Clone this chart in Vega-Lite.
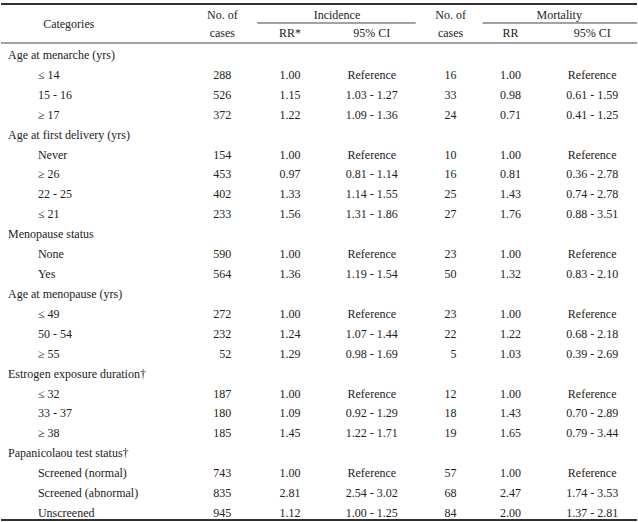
{
  "$schema": "https://vega.github.io/schema/vega-lite/v6.json",
  "width": 638,
  "height": 522,
  "autosize": {"type": "fit", "contains": "padding"},
  "padding": 0,
  "background": "white",
  "config": {
    "view": {"stroke": null},
    "text": {"font": "Liberation Serif", "fontSize": 12, "color": "#222"},
    "axis": {"disable": true}
  },
  "datasets": {
    "rows": [
      {"r": 1, "kind": "group", "label": "Age at menarche (yrs)"},
      {"r": 2, "kind": "item", "label": "≤ 14", "n1": 288, "rr1": 1.00, "ci1": "Reference", "n2": 16, "rr2": 1.00, "ci2": "Reference"},
      {"r": 3, "kind": "item", "label": "15 - 16", "n1": 526, "rr1": 1.15, "ci1": "1.03 - 1.27", "n2": 33, "rr2": 0.98, "ci2": "0.61 - 1.59"},
      {"r": 4, "kind": "item", "label": "≥ 17", "n1": 372, "rr1": 1.22, "ci1": "1.09 - 1.36", "n2": 24, "rr2": 0.71, "ci2": "0.41 - 1.25"},
      {"r": 5, "kind": "group", "label": "Age at first delivery (yrs)"},
      {"r": 6, "kind": "item", "label": "Never", "n1": 154, "rr1": 1.00, "ci1": "Reference", "n2": 10, "rr2": 1.00, "ci2": "Reference"},
      {"r": 7, "kind": "item", "label": "≥ 26", "n1": 453, "rr1": 0.97, "ci1": "0.81 - 1.14", "n2": 16, "rr2": 0.81, "ci2": "0.36 - 2.78"},
      {"r": 8, "kind": "item", "label": "22 - 25", "n1": 402, "rr1": 1.33, "ci1": "1.14 - 1.55", "n2": 25, "rr2": 1.43, "ci2": "0.74 - 2.78"},
      {"r": 9, "kind": "item", "label": "≤ 21", "n1": 233, "rr1": 1.56, "ci1": "1.31 - 1.86", "n2": 27, "rr2": 1.76, "ci2": "0.88 - 3.51"},
      {"r": 10, "kind": "group", "label": "Menopause status"},
      {"r": 11, "kind": "item", "label": "None", "n1": 590, "rr1": 1.00, "ci1": "Reference", "n2": 23, "rr2": 1.00, "ci2": "Reference"},
      {"r": 12, "kind": "item", "label": "Yes", "n1": 564, "rr1": 1.36, "ci1": "1.19 - 1.54", "n2": 50, "rr2": 1.32, "ci2": "0.83 - 2.10"},
      {"r": 13, "kind": "group", "label": "Age at menopause (yrs)"},
      {"r": 14, "kind": "item", "label": "≤ 49", "n1": 272, "rr1": 1.00, "ci1": "Reference", "n2": 23, "rr2": 1.00, "ci2": "Reference"},
      {"r": 15, "kind": "item", "label": "50 - 54", "n1": 232, "rr1": 1.24, "ci1": "1.07 - 1.44", "n2": 22, "rr2": 1.22, "ci2": "0.68 - 2.18"},
      {"r": 16, "kind": "item", "label": "≥ 55", "n1": 52, "rr1": 1.29, "ci1": "0.98 - 1.69", "n2": 5, "rr2": 1.03, "ci2": "0.39 - 2.69"},
      {"r": 17, "kind": "group", "label": "Estrogen exposure duration†"},
      {"r": 18, "kind": "item", "label": "≤ 32", "n1": 187, "rr1": 1.00, "ci1": "Reference", "n2": 12, "rr2": 1.00, "ci2": "Reference"},
      {"r": 19, "kind": "item", "label": "33 - 37", "n1": 180, "rr1": 1.09, "ci1": "0.92 - 1.29", "n2": 18, "rr2": 1.43, "ci2": "0.70 - 2.89"},
      {"r": 20, "kind": "item", "label": "≥ 38", "n1": 185, "rr1": 1.45, "ci1": "1.22 - 1.71", "n2": 19, "rr2": 1.65, "ci2": "0.79 - 3.44"},
      {"r": 21, "kind": "group", "label": "Papanicolaou test status†"},
      {"r": 22, "kind": "item", "label": "Screened (normal)", "n1": 743, "rr1": 1.00, "ci1": "Reference", "n2": 57, "rr2": 1.00, "ci2": "Reference"},
      {"r": 23, "kind": "item", "label": "Screened (abnormal)", "n1": 835, "rr1": 2.81, "ci1": "2.54 - 3.02", "n2": 68, "rr2": 2.47, "ci2": "1.74 - 3.53"},
      {"r": 24, "kind": "item", "label": "Unscreened", "n1": 945, "rr1": 1.12, "ci1": "1.00 - 1.25", "n2": 84, "rr2": 2.00, "ci2": "1.37 - 2.81"}
    ],
    "one": [{}]
  },
  "layer": [
    {
      "data": {"name": "one"},
      "mark": {"type": "rule", "stroke": "#333", "strokeWidth": 2},
      "encoding": {
        "x": {"datum": 0, "type": "quantitative", "scale": {"domain": [0, 638], "nice": false, "zero": false}, "axis": null},
        "x2": {"datum": 638},
        "y": {"datum": -1.561, "type": "quantitative", "scale": {"domain": [-1.762, 24.452], "nice": false, "zero": false, "reverse": true}, "axis": null}
      }
    },
    {
      "data": {"name": "one"},
      "mark": {"type": "rule", "stroke": "#333", "strokeWidth": 2},
      "encoding": {
        "x": {"datum": 0, "type": "quantitative"},
        "x2": {"datum": 638},
        "y": {"datum": 24.352, "type": "quantitative"}
      }
    },
    {
      "data": {"name": "one"},
      "mark": {"type": "rule", "stroke": "#444", "strokeWidth": 1},
      "encoding": {
        "x": {"datum": 0, "type": "quantitative"},
        "x2": {"datum": 638},
        "y": {"datum": 0.397, "type": "quantitative"}
      }
    },
    {
      "data": {"name": "one"},
      "mark": {"type": "rule", "stroke": "#444", "strokeWidth": 1},
      "encoding": {
        "x": {"datum": 257, "type": "quantitative"},
        "x2": {"datum": 416},
        "y": {"datum": -0.607, "type": "quantitative"}
      }
    },
    {
      "data": {"name": "one"},
      "mark": {"type": "rule", "stroke": "#444", "strokeWidth": 1},
      "encoding": {
        "x": {"datum": 483, "type": "quantitative"},
        "x2": {"datum": 638},
        "y": {"datum": -0.607, "type": "quantitative"}
      }
    },
    {
      "data": {"name": "one"},
      "mark": {"type": "text", "text": "Categories", "align": "center", "baseline": "middle"},
      "encoding": {"x": {"datum": 68, "type": "quantitative"}, "y": {"datum": -0.557, "type": "quantitative"}}
    },
    {
      "data": {"name": "one"},
      "mark": {"type": "text", "text": "No. of", "align": "center", "baseline": "middle"},
      "encoding": {"x": {"datum": 222, "type": "quantitative"}, "y": {"datum": -1.009, "type": "quantitative"}}
    },
    {
      "data": {"name": "one"},
      "mark": {"type": "text", "text": "cases", "align": "center", "baseline": "middle"},
      "encoding": {"x": {"datum": 222, "type": "quantitative"}, "y": {"datum": -0.105, "type": "quantitative"}}
    },
    {
      "data": {"name": "one"},
      "mark": {"type": "text", "text": "Incidence", "align": "center", "baseline": "middle"},
      "encoding": {"x": {"datum": 337, "type": "quantitative"}, "y": {"datum": -1.009, "type": "quantitative"}}
    },
    {
      "data": {"name": "one"},
      "mark": {"type": "text", "text": "RR*", "align": "center", "baseline": "middle"},
      "encoding": {"x": {"datum": 290, "type": "quantitative"}, "y": {"datum": -0.105, "type": "quantitative"}}
    },
    {
      "data": {"name": "one"},
      "mark": {"type": "text", "text": "95% CI", "align": "center", "baseline": "middle"},
      "encoding": {"x": {"datum": 372, "type": "quantitative"}, "y": {"datum": -0.105, "type": "quantitative"}}
    },
    {
      "data": {"name": "one"},
      "mark": {"type": "text", "text": "No. of", "align": "center", "baseline": "middle"},
      "encoding": {"x": {"datum": 451, "type": "quantitative"}, "y": {"datum": -1.009, "type": "quantitative"}}
    },
    {
      "data": {"name": "one"},
      "mark": {"type": "text", "text": "cases", "align": "center", "baseline": "middle"},
      "encoding": {"x": {"datum": 451, "type": "quantitative"}, "y": {"datum": -0.105, "type": "quantitative"}}
    },
    {
      "data": {"name": "one"},
      "mark": {"type": "text", "text": "Mortality", "align": "center", "baseline": "middle"},
      "encoding": {"x": {"datum": 560, "type": "quantitative"}, "y": {"datum": -1.009, "type": "quantitative"}}
    },
    {
      "data": {"name": "one"},
      "mark": {"type": "text", "text": "RR", "align": "center", "baseline": "middle"},
      "encoding": {"x": {"datum": 511, "type": "quantitative"}, "y": {"datum": -0.105, "type": "quantitative"}}
    },
    {
      "data": {"name": "one"},
      "mark": {"type": "text", "text": "95% CI", "align": "center", "baseline": "middle"},
      "encoding": {"x": {"datum": 593, "type": "quantitative"}, "y": {"datum": -0.105, "type": "quantitative"}}
    },
    {
      "data": {"name": "rows"},
      "transform": [{"filter": "datum.kind == 'group'"}],
      "mark": {"type": "text", "align": "left", "baseline": "middle"},
      "encoding": {
        "x": {"datum": 7, "type": "quantitative"},
        "y": {"field": "r", "type": "quantitative"},
        "text": {"field": "label"}
      }
    },
    {
      "data": {"name": "rows"},
      "transform": [{"filter": "datum.kind == 'item'"}],
      "mark": {"type": "text", "align": "left", "baseline": "middle"},
      "encoding": {
        "x": {"datum": 37, "type": "quantitative"},
        "y": {"field": "r", "type": "quantitative"},
        "text": {"field": "label"}
      }
    },
    {
      "data": {"name": "rows"},
      "transform": [{"filter": "datum.kind == 'item'"}],
      "mark": {"type": "text", "align": "right", "baseline": "middle"},
      "encoding": {
        "x": {"datum": 231, "type": "quantitative"},
        "y": {"field": "r", "type": "quantitative"},
        "text": {"field": "n1", "type": "quantitative", "format": "d"}
      }
    },
    {
      "data": {"name": "rows"},
      "transform": [{"filter": "datum.kind == 'item'"}],
      "mark": {"type": "text", "align": "center", "baseline": "middle"},
      "encoding": {
        "x": {"datum": 290, "type": "quantitative"},
        "y": {"field": "r", "type": "quantitative"},
        "text": {"field": "rr1", "type": "quantitative", "format": ".2f"}
      }
    },
    {
      "data": {"name": "rows"},
      "transform": [{"filter": "datum.kind == 'item'"}],
      "mark": {"type": "text", "align": "center", "baseline": "middle"},
      "encoding": {
        "x": {"datum": 372, "type": "quantitative"},
        "y": {"field": "r", "type": "quantitative"},
        "text": {"field": "ci1"}
      }
    },
    {
      "data": {"name": "rows"},
      "transform": [{"filter": "datum.kind == 'item'"}],
      "mark": {"type": "text", "align": "right", "baseline": "middle"},
      "encoding": {
        "x": {"datum": 457, "type": "quantitative"},
        "y": {"field": "r", "type": "quantitative"},
        "text": {"field": "n2", "type": "quantitative", "format": "d"}
      }
    },
    {
      "data": {"name": "rows"},
      "transform": [{"filter": "datum.kind == 'item'"}],
      "mark": {"type": "text", "align": "center", "baseline": "middle"},
      "encoding": {
        "x": {"datum": 511, "type": "quantitative"},
        "y": {"field": "r", "type": "quantitative"},
        "text": {"field": "rr2", "type": "quantitative", "format": ".2f"}
      }
    },
    {
      "data": {"name": "rows"},
      "transform": [{"filter": "datum.kind == 'item'"}],
      "mark": {"type": "text", "align": "center", "baseline": "middle"},
      "encoding": {
        "x": {"datum": 593, "type": "quantitative"},
        "y": {"field": "r", "type": "quantitative"},
        "text": {"field": "ci2"}
      }
    }
  ]
}
